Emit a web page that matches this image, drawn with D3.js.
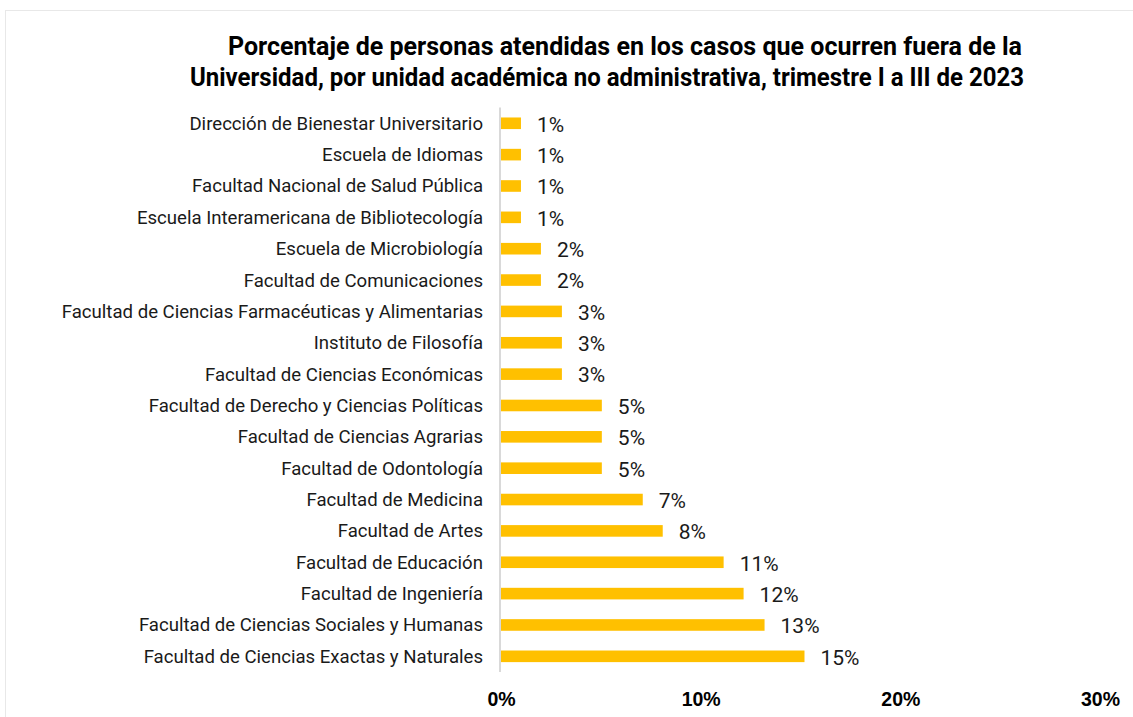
<!DOCTYPE html>
<html>
<head>
<meta charset="utf-8">
<script src="https://cdn.jsdelivr.net/npm/d3@7"></script>
<style>
  body { margin: 0; background: #fff; }
  svg { display: block; }
</style>
</head>
<body>
<svg id="chart"></svg>
<script>
// data, top to bottom as in the picture
const unidades = [
  "Dirección de Bienestar Universitario",
  "Escuela de Idiomas",
  "Facultad Nacional de Salud Pública",
  "Escuela Interamericana de Bibliotecología",
  "Escuela de Microbiología",
  "Facultad de Comunicaciones",
  "Facultad de Ciencias Farmacéuticas y Alimentarias",
  "Instituto de Filosofía",
  "Facultad de Ciencias Económicas",
  "Facultad de Derecho y Ciencias Políticas",
  "Facultad de Ciencias Agrarias",
  "Facultad de Odontología",
  "Facultad de Medicina",
  "Facultad de Artes",
  "Facultad de Educación",
  "Facultad de Ingeniería",
  "Facultad de Ciencias Sociales y Humanas",
  "Facultad de Ciencias Exactas y Naturales"
];
const porcentajes = [1.0, 1.0, 1.0, 1.0, 2.0, 2.0, 3.05, 3.05, 3.05, 5.05, 5.05, 5.05, 7.1, 8.1, 11.15, 12.15, 13.2, 15.2];
const ticks = [0, 10, 20, 30];
const titulo = [
  "Porcentaje de personas atendidas en los casos que ocurren fuera de la",
  "Universidad, por unidad académica no administrativa, trimestre I a III de 2023"
];

const W = 1133, H = 717;
const svg = d3.select("#chart").attr("width", W).attr("height", H);

// light frame
svg.append("rect")
  .attr("x", 5.5).attr("y", 10.5)
  .attr("width", 1130).attr("height", 720)
  .attr("fill", "none").attr("stroke", "#e8e8e8");

// title (line widths fitted to the reference)
const titleWidths = [794, 834];
svg.append("g").selectAll("text").data(titulo).join("text")
  .attr("x", (d, i) => i === 0 ? 625 : 607)
  .attr("y", (d, i) => 55 + i * 31)
  .attr("text-anchor", "middle")
  .attr("font-family", "Roboto, sans-serif")
  .attr("font-weight", "bold")
  .attr("font-size", 25)
  .attr("fill", "#000")
  .attr("textLength", (d, i) => titleWidths[i])
  .attr("lengthAdjust", "spacingAndGlyphs")
  .text(d => d);

// scales
const x = d3.scaleLinear().domain([0, 30]).range([501, 1100]);
const y = d3.scaleBand().domain(unidades).range([107.6, 672])
  .paddingInner(0.63).paddingOuter(0.315);

// bars
svg.append("g").selectAll("rect").data(unidades).join("rect")
  .attr("x", x(0))
  .attr("y", d => y(d))
  .attr("width", (d, i) => x(porcentajes[i]) - x(0))
  .attr("height", y.bandwidth())
  .attr("fill", "#FFC000");

// vertical axis line
svg.append("line")
  .attr("x1", 500).attr("x2", 500)
  .attr("y1", 107.6).attr("y2", 672)
  .attr("stroke", "#d9d9d9").attr("stroke-width", 2);

// category labels
svg.append("g").selectAll("text").data(unidades).join("text")
  .attr("x", 483)
  .attr("y", d => y(d) + y.bandwidth() / 2)
  .attr("dy", "0.35em")
  .attr("text-anchor", "end")
  .attr("font-family", "Roboto, sans-serif")
  .attr("font-size", 18.6)
  .attr("fill", "#1a1a1a")
  .text(d => d);

// value labels
svg.append("g").selectAll("text").data(unidades).join("text")
  .attr("x", (d, i) => x(porcentajes[i]) + 16)
  .attr("y", d => y(d) + y.bandwidth() / 2 + 1)
  .attr("dy", "0.35em")
  .attr("font-family", "Roboto, sans-serif")
  .attr("font-size", 21)
  .attr("fill", "#1a1a1a")
  .text((d, i) => Math.round(porcentajes[i]) + "%");

// x tick labels
const xAxis = svg.append("g")
  .attr("transform", "translate(0,706)")
  .call(d3.axisBottom(x).tickValues(ticks).tickFormat(d => d + "%").tickSize(0).tickPadding(0));
xAxis.select(".domain").remove();
xAxis.selectAll("text")
  .attr("dy", 0).attr("y", 0)
  .attr("font-family", "'Liberation Sans', Arial, sans-serif")
  .attr("font-weight", "bold")
  .attr("font-size", 19.5)
  .attr("fill", "#000");
</script>
</body>
</html>
